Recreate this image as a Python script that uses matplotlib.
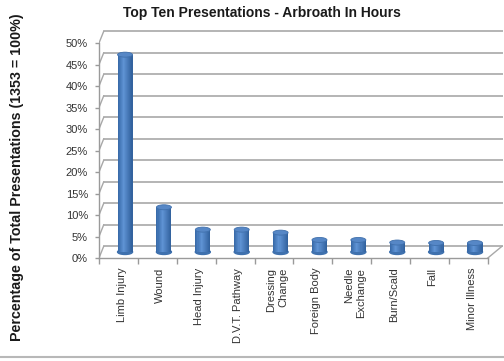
import numpy as np
import matplotlib.pyplot as plt
from matplotlib.patches import Ellipse
from matplotlib.lines import Line2D
from matplotlib.ticker import PercentFormatter

# Share of all presentations (1353 = 100%)
categories = ['Limb Injury', 'Wound', 'Head Injury', 'D.V.T. Pathway', 'Dressing\nChange',
              'Foreign Body', 'Needle\nExchange', 'Burn/Scald', 'Fall', 'Minor Illness']
shares = [0.459, 0.104, 0.052, 0.052, 0.045, 0.028, 0.028, 0.022, 0.021, 0.021]
yticks = [0, 0.05, 0.10, 0.15, 0.20, 0.25, 0.30, 0.35, 0.40, 0.45, 0.50]

# pseudo-3D depth offsets (category units, axis fraction)
MID_DX, MID_DY = 0.17, 0.014
BACK_DX, BACK_DY = 0.12, 0.027
BAR_W = 0.386
CAP_H = 0.0116

fig = plt.figure(figsize=(5.04, 3.61), dpi=100)
ax = fig.add_axes([99 / 504, 103 / 361, 404 / 504, 230 / 361])
ax.set_xlim(-0.5, 9.89)
ax.set_ylim(0, 0.535)

# back wall gridlines plus the short connectors on the side wall
grid_c = '#a8a8a8'
for v in yticks:
    ax.plot([-0.5 + BACK_DX, 9.89], [v + BACK_DY, v + BACK_DY], color=grid_c, lw=1.2, zorder=1)
    ax.plot([-0.5, -0.5 + BACK_DX], [v, v + BACK_DY], color=grid_c, lw=1.0, zorder=1)
ax.plot([9.5, 9.5 + BACK_DX * 3], [0, BACK_DY], color=grid_c, lw=1.0, zorder=1)

# cylinders: shaded strips, rounded base and a lighter top cap
def shade(t):
    keys = [0.0, 0.4, 1.0]
    cols = np.array([[0x35, 0x67, 0xa6], [0x5f, 0x93, 0xd4], [0x30, 0x60, 0x9c]]) / 255
    return tuple(np.interp(t, keys, cols[:, k]) for k in range(3))

nstrip = 14
dw = BAR_W / nstrip
for i, v in enumerate(shares):
    cx = i + MID_DX
    ax.add_patch(Ellipse((cx, MID_DY), BAR_W, CAP_H, color='#3f71ae', zorder=2))
    for k in range(nstrip):
        ax.bar(cx - BAR_W / 2 + (k + 0.5) * dw, v, width=dw * 1.05, bottom=MID_DY,
               color=shade((k + 0.5) / nstrip), linewidth=0, zorder=3)
    ax.add_patch(Ellipse((cx, v + MID_DY), BAR_W, CAP_H, facecolor='#5687c6',
                         edgecolor='#4070ac', lw=0.6, zorder=4))

for s in ['top', 'right']:
    ax.spines[s].set_visible(False)
for s in ['left', 'bottom']:
    ax.spines[s].set_color('#9a9a9a')
    ax.spines[s].set_linewidth(1.0)
ax.spines['left'].set_bounds(0, 0.5)
ax.spines['bottom'].set_bounds(-0.5, 9.5)

ax.set_yticks(yticks)
ax.yaxis.set_major_formatter(PercentFormatter(1.0, decimals=0))
ax.tick_params(axis='y', length=3, width=1.0, color='#9a9a9a', pad=5,
               labelsize=8, labelcolor='#333333')
for lab in ax.get_yticklabels():
    lab.set_family('Liberation Sans')

ax.set_xticks(np.arange(len(categories)) + 0.08)
ax.set_xticklabels(categories, rotation=90, va='top', ha='center', multialignment='right',
                   fontsize=8, color='#333333', family='Liberation Sans')
ax.set_xticks(np.arange(len(categories) + 1) - 0.5, minor=True)
ax.tick_params(axis='x', which='major', length=0, pad=7)
ax.tick_params(axis='x', which='minor', length=4, width=1.0, color='#9a9a9a')

fig.text(262 / 504, 1 - 13 / 361, 'Top Ten Presentations - Arbroath In Hours',
         ha='center', va='center', fontsize=10, fontweight='bold',
         family='Liberation Sans', color='#1a1a1a')
fig.text(17 / 504, 1 - 177 / 361, 'Percentage of Total Presentations (1353 = 100%)',
         rotation=90, ha='center', va='center', fontsize=10.3, fontweight='bold',
         family='Liberation Sans', color='#1a1a1a')

fig.add_artist(Line2D([0, 1], [4 / 361, 4 / 361], color='#b8b8b8', lw=1.5))

fig.savefig('out.png', dpi=100)
